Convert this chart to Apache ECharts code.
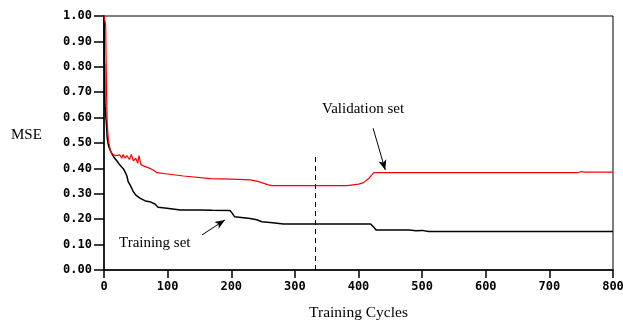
<!DOCTYPE html>
<html><head><meta charset="utf-8">
<script src="https://cdn.jsdelivr.net/npm/echarts@6/dist/echarts.min.js"></script>
<style>html,body{margin:0;padding:0;background:#fff}#c{width:623px;height:320px}</style>
</head><body><div id="c"></div>
<script>
const xTicks = [0,100,200,300,400,500,600,700,800];
const yTicks = [0,0.1,0.2,0.3,0.4,0.5,0.6,0.7,0.8,0.9,1.0];
const trainX = [0,0.5,1,1.5,3,4,5,7,10,15,20,25,30,33,36,38,42,46,50,57,65,72,80,85,99,120,150,170,198,202,205,230,240,248,265,282,419,424,428,480,490,500,510,800];
const trainY = [1.0,0.82,0.81,0.65,0.6,0.57,0.52,0.49,0.47,0.446,0.43,0.413,0.40,0.387,0.37,0.348,0.33,0.309,0.295,0.282,0.272,0.269,0.26,0.247,0.243,0.236,0.236,0.235,0.234,0.222,0.21,0.203,0.198,0.19,0.186,0.181,0.181,0.168,0.157,0.157,0.155,0.156,0.152,0.152];
const valX = [0,2.6,4,5,7,10,12,18,25,28,30,33,36,40,43,46,50,53,55,58,62,72,78,83,100,125,167,200,230,243,250,257,264,382,400,408,416,424,745,750,755,800];
const valY = [1.0,0.965,0.7,0.58,0.51,0.47,0.459,0.45,0.453,0.44,0.455,0.44,0.45,0.435,0.455,0.43,0.44,0.42,0.45,0.415,0.41,0.40,0.393,0.383,0.378,0.370,0.36,0.358,0.355,0.348,0.342,0.336,0.332,0.332,0.338,0.344,0.36,0.383,0.383,0.388,0.385,0.385];
const cutX = 332, cutTop = 0.46;
const valArrow = [[423,0.558],[442,0.394]];
const trainArrow = [[154,0.138],[190,0.197]];

const mono = 'DejaVu Sans Mono';
const serif = 'Liberation Serif';
const chart = echarts.init(document.getElementById('c'), null, {renderer:'canvas'});
chart.setOption({
  animation:false,
  grid:{left:104,right:10,top:16,bottom:50,show:true,borderColor:'#000',borderWidth:1,containLabel:false,outerBoundsMode:'none'},
  xAxis:{type:'value',min:0,max:800,interval:100,
    axisLine:{lineStyle:{color:'#000',width:1.5}},
    axisTick:{show:true,length:8,lineStyle:{color:'#000',width:1.5}},
    axisLabel:{color:'#000',fontFamily:mono,fontWeight:'bold',fontSize:12,margin:11,formatter:v=>String(v)},
    splitLine:{show:false},
    name:'Training Cycles',nameLocation:'middle',nameGap:35,
    nameTextStyle:{fontFamily:serif,fontSize:15.5,color:'#000'}},
  yAxis:{type:'value',min:0,max:1,interval:0.1,
    axisLine:{show:true,lineStyle:{color:'#000',width:1.5}},
    axisTick:{show:true,length:10,lineStyle:{color:'#000',width:1.5}},
    axisLabel:{color:'#000',fontFamily:mono,fontWeight:'bold',fontSize:12,margin:12,formatter:v=>v.toFixed(2)},
    splitLine:{show:false}},
  graphic:[
    {type:'text',left:11,top:128,style:{text:'MSE',font:'15px '+serif,fill:'#000'}},
    {type:'text',left:322,top:102,style:{text:'Validation set',font:'15px '+serif,fill:'#000'}},
    {type:'text',left:119,top:236,style:{text:'Training set',font:'15px '+serif,fill:'#000'}}
  ],
  series:[
    {type:'line',data:valX.map((x,i)=>[x,valY[i]]),symbol:'none',lineStyle:{color:'#ff0000',width:1.2},z:3,
     markLine:{silent:true,symbol:['none','arrow'],symbolSize:[6,10],label:{show:false},
       lineStyle:{color:'#000',width:1,type:'solid'},
       data:[[{coord:valArrow[0]},{coord:valArrow[1]}],[{coord:trainArrow[0]},{coord:trainArrow[1]}]]}},
    {type:'line',data:trainX.map((x,i)=>[x,trainY[i]]),symbol:'none',lineStyle:{color:'#000',width:1.5},z:2,
     markLine:{silent:true,symbol:['none','none'],label:{show:false},
       lineStyle:{color:'#000',width:1,type:[5,4]},
       data:[[{coord:[cutX,0]},{coord:[cutX,cutTop]}]]}}
  ]
});
</script></body></html>
